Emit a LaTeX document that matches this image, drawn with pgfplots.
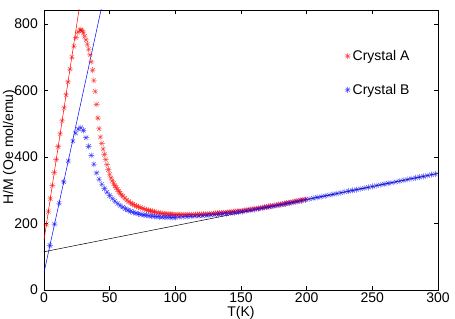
\documentclass[border=0pt]{standalone}
\usepackage{pgfplots}
\pgfplotsset{compat=1.18}
\usepackage{fontspec}
\setmainfont{Liberation Sans}
\pgfdeclareplotmark{mstar}{%
  \pgfpathmoveto{\pgfqpoint{-\pgfplotmarksize}{0pt}}%
  \pgfpathlineto{\pgfqpoint{\pgfplotmarksize}{0pt}}%
  \pgfpathmoveto{\pgfqpoint{0pt}{-\pgfplotmarksize}}%
  \pgfpathlineto{\pgfqpoint{0pt}{\pgfplotmarksize}}%
  \pgfpathmoveto{\pgfqpoint{-0.707\pgfplotmarksize}{-0.707\pgfplotmarksize}}%
  \pgfpathlineto{\pgfqpoint{0.707\pgfplotmarksize}{0.707\pgfplotmarksize}}%
  \pgfpathmoveto{\pgfqpoint{-0.707\pgfplotmarksize}{0.707\pgfplotmarksize}}%
  \pgfpathlineto{\pgfqpoint{0.707\pgfplotmarksize}{-0.707\pgfplotmarksize}}%
  \pgfusepathqstroke}
\begin{document}
\begin{tikzpicture}
\begin{axis}[
  name=ax,
  scale only axis,
  width=394pt, height=280pt,
  xmin=0, xmax=300, ymin=0, ymax=842,
  xtick={0,50,...,300}, ytick={0,200,...,800},
  tick align=inside, major tick length=4pt,
  tick style={black, line width=0.5pt},
  axis line style={line width=0.6pt},
  /pgf/number format/assume math mode=true,
  tick label style={font=\fontsize{14}{14}\selectfont, inner sep=0pt},
  xticklabel style={yshift=-3pt},
  yticklabel style={xshift=-6pt},
  label style={font=\fontsize{14}{14}\selectfont, inner sep=0pt},
  xlabel={T(K)}, ylabel={H/M (Oe mol/emu)},
  xlabel style={at={(axis description cs:0.5,0)}, anchor=center, yshift=-23pt},
  ylabel style={at={(axis description cs:-0.0875,0.51)}, anchor=center},
  clip=true,
  legend style={draw=none, fill=none, at={(0.755,0.775)}, anchor=west,
    row sep=18pt, font=\fontsize{14}{16}\selectfont},
  legend cell align=left,
]
\addplot[only marks, mark=mstar, mark size=3pt, red, mark options={line width=0.4pt, draw opacity=0.75}] coordinates {
(1.8,197) (3.3,236) (4.8,275) (6.3,314) (7.8,353) (9.3,392) (10.8,431) (12.3,470) (13.8,509) (15.3,548) (16.8,587) (18.3,626) (19.8,664) (21.3,700) (22.8,733) (24.3,759) (25.8,775) (27.3,782)
(28,782) (29,780) (30,773) (31,763) (32,752) (33,739) (34,724) (35,707) (36,686) (37,661) (38,630) (39,597) (40,558) (41,517) (42,485) (43,460) (44,441) (45,424) (46,408) (47,392) (48,377) (49,362) (50,348) (51,337) (52,328) (53,321) (54,314) (55,308) (56,302) (57,296) (58,291) (59,286) (60,282)
(61.5,276) (63,270.5) (64.5,266) (66,262) (67.5,258.2) (69,255) (70.5,252.2) (72,250) (73.5,247.8) (75,245.5) (76.5,243.2) (78,241) (79.5,239.5) (81,238) (82.5,236.5) (84,235) (85.5,233.7) (87,232.4) (88.5,231.3) (90,230.5) (91.5,229.8) (93,229.2) (94.5,228.6) (96,228) (97.5,227.6) (99,227.2) (100.5,227) (102,226.7) (103.5,226.5) (105,226.4) (106.5,226.4) (108,226.4) (109.5,226.5) (111,226.5) (112.5,226.6) (114,226.8) (115.5,227) (117,227.1) (118.5,227.3) (120,227.5) (121.5,227.9) (123,228.3) (124.5,228.6) (126,229) (127.5,229.5) (129,229.9) (130.5,230.4) (132,230.8) (133.5,231.3) (135,231.9) (136.5,232.4) (138,233) (139.5,233.6) (141,234.2) (142.5,234.8) (144,235.4) (145.5,236.1) (147,236.8) (148.5,237.5) (150,238.2) (151.5,238.9) (153,239.7) (154.5,240.6) (156,241.4) (157.5,242.2) (159,243.1) (160.5,244) (162,245) (163.5,246) (165,246.9) (166.5,247.9) (168,249) (169.5,250) (171,251.1) (172.5,252.1) (174,253.2) (175.5,254.3) (177,255.5) (178.5,256.6) (180,257.7) (181.5,258.8) (183,260) (184.5,261.2) (186,262.3) (187.5,263.5) (189,264.7) (190.5,265.9) (192,267.1) (193.5,268.3) (195,269.5) (196.5,270.7) (198,271.9) (199.5,273.1)
};
\addlegendentry{Crystal A}
\addplot[only marks, mark=mstar, mark size=3pt, blue, mark options={line width=0.4pt, draw opacity=0.75}] coordinates {
(4.5,134) (8,198) (11.5,261) (15,325) (18.5,388) (22,448) (24,472) (26,484) (28,488) (30,480) (32,458) (34,432) (36,405) (38,378) (40,352) (42,333) (44,318) (46,305) (48,294) (50,284) (52,275) (54,267) (56,260) (58,254) (60,249) (62,244) (64,240) (66,236.5) (68,233.5) (70,231) (72,229) (74,227.3) (76,225.8) (78,224.5) (80,223.3) (82,222.3) (84,221.4) (86,220.6) (88,220) (90,219.4) (92,219) (94,218.7) (96,218.5) (98,218.4)
(100,218.3) (103,219) (106,219.8) (109,220.6) (112,221.4) (115,222.2) (118,222.5) (121,223.4) (124,224.4) (127,225.4) (130,226.5) (133,227.6) (136,228.7) (139,229.8) (142,231) (145,232.5) (148,234) (151,235.7) (154,237.8) (157,239.9) (160,242) (163,244.1) (166,246.2) (169,248.3) (172,250.5) (175,252.6) (178,254.6) (181,256.8) (184,259) (187,261.3) (190,263.6) (193,265.9) (196,268.3) (199,270.7)
(202,273.6) (205,275.9) (208,278.3) (211,280.6) (214,283.0) (217,285.3) (220,287.7) (223,290.1) (226,292.4) (229,294.8) (232,297.1) (235,299.5) (238,301.8) (241,304.2) (244,306.5) (247,308.9) (250,311.3) (253,313.6) (256,316.0) (259,318.3) (262,320.7) (265,323.0) (268,325.4) (271,327.7) (274,330.1) (277,332.4) (280,334.8) (283,337.2) (286,339.5) (289,341.9) (292,344.2) (295,346.6) (298,348.9)
};
\addlegendentry{Crystal B}
\addplot[red, line width=0.5pt, forget plot] coordinates {(0,150) (35,1060)};
\addplot[blue, line width=0.5pt, forget plot] coordinates {(0,52) (50,962)};
\addplot[black, line width=0.5pt, forget plot] coordinates {(0,115) (300,350.5)};
\end{axis}
\pgfresetboundingbox
\path ([shift={(-44pt,-29pt)}]ax.south west) rectangle ([shift={(17pt,10pt)}]ax.north east);
\end{tikzpicture}
\end{document}
